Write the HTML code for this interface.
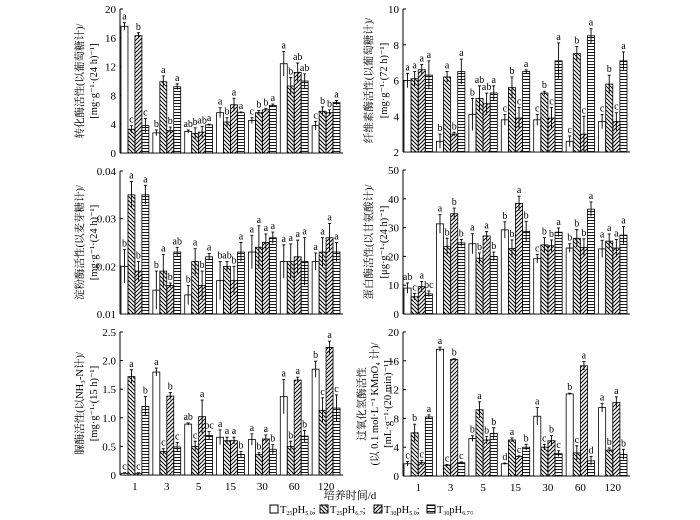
<!DOCTYPE html>
<html><head><meta charset="utf-8"><style>
html,body{margin:0;padding:0;background:#fff;}
svg{display:block;font-family:"Liberation Serif","Noto Serif CJK SC",serif;}
</style></head><body>
<svg id="chart" width="700" height="520" viewBox="0 0 700 520" xmlns="http://www.w3.org/2000/svg">
<defs>
<pattern id="pBack" patternUnits="userSpaceOnUse" width="4" height="4"><path d="M-1,-1 L5,5 M-1,3 L1,5 M3,-1 L5,1" stroke="#000" stroke-width="1"/></pattern>
<pattern id="pFwd" patternUnits="userSpaceOnUse" width="4" height="4"><path d="M-1,5 L5,-1 M-1,1 L1,-1 M3,5 L5,3" stroke="#000" stroke-width="1"/></pattern>
<pattern id="pHor" patternUnits="userSpaceOnUse" width="4" height="3"><path d="M0,1.5 L4,1.5" stroke="#000" stroke-width="0.9"/></pattern>
</defs>
<g id="panels"></g>
<text x="350" y="499" text-anchor="middle" font-size="11">培养时间/d</text>
<g font-size="10.5">
<rect x="270" y="505" width="8" height="8" fill="#fff" stroke="#000"/>
<text x="280" y="513">T<tspan font-size="6" dy="2">25</tspan><tspan dy="-2">pH</tspan><tspan font-size="6" dy="2">5.0</tspan><tspan dy="-2">;</tspan></text>
<rect x="320" y="505" width="8" height="8" fill="url(#pBack)" stroke="#000"/>
<text x="330" y="513">T<tspan font-size="6" dy="2">25</tspan><tspan dy="-2">pH</tspan><tspan font-size="6" dy="2">6.7</tspan><tspan dy="-2">;</tspan></text>
<rect x="374" y="505" width="8" height="8" fill="url(#pFwd)" stroke="#000"/>
<text x="384" y="513">T<tspan font-size="6" dy="2">30</tspan><tspan dy="-2">pH</tspan><tspan font-size="6" dy="2">5.0</tspan><tspan dy="-2">;</tspan></text>
<rect x="427" y="505" width="8" height="8" fill="url(#pHor)" stroke="#000"/>
<text x="437" y="513">T<tspan font-size="6" dy="2">30</tspan><tspan dy="-2">pH</tspan><tspan font-size="6" dy="2">6.7</tspan><tspan dy="-2">。</tspan></text>
</g>
</svg>
<script>
const categories = ["1","3","5","15","30","60","120"];
const seriesNames = ["T25pH5.0","T25pH6.7","T30pH5.0","T30pH6.7"];
const invertaseVals = [[17.6,3.3,16.3,3.8],[2.8,9.9,3.1,9.2],[3.0,2.7,2.9,3.9],[5.6,4.3,6.7,5.6],[4.5,5.6,6.0,6.6],[12.4,9.3,11.2,10.0],[3.8,5.8,5.6,7.0]];
const invertaseErr = [[0.5,0.5,0.4,1.0],[0.4,0.8,0.5,0.4],[0.2,0.8,0.8,0.1],[0.7,0.6,0.9,0.1],[0.4,0.3,0.2,0.2],[1.7,1.2,1.3,1.0],[0.6,0.6,0.4,0.3]];
const invertaseLetters = [["a","c","b","c"],["b","a","b","a"],["ab","b","ab","a"],["a","b","a","a"],["c","b","b","a"],["a","b","ab","ab"],["c","b","b","a"]];
const invertaseTicks = [0,4,8,12,16,20];
const cellulaseVals = [[6.0,6.1,6.6,6.3],[2.6,6.2,3.0,6.5],[4.1,5.0,4.7,5.3],[3.8,5.6,3.9,6.5],[3.8,5.3,3.9,7.1],[2.6,7.5,3.0,8.5],[3.7,5.8,3.7,7.1]];
const cellulaseErr = [[0.4,0.4,0.3,0.8],[0.4,0.3,0.1,0.7],[0.9,0.7,0.6,0.4],[0.3,0.6,0.6,0.1],[0.3,0.1,0.6,1.0],[0.3,0.4,1.0,0.4],[0.4,0.5,0.5,0.5]];
const cellulaseLetters = [["a","a","a","a"],["b","a","b","a"],["b","ab","ab","a"],["c","b","c","a"],["c","b","c","a"],["c","b","c","a"],["c","b","c","a"]];
const cellulaseTicks = [2,4,6,8,10];
const amylaseVals = [[0.020,0.035,0.019,0.035],[0.015,0.019,0.016,0.023],[0.014,0.021,0.016,0.022],[0.017,0.020,0.017,0.023],[0.023,0.024,0.025,0.026],[0.021,0.021,0.022,0.021],[0.021,0.023,0.026,0.023]];
const amylaseErr = [[0.0035,0.0028,0.002,0.002],[0.004,0.0035,0.0005,0.001],[0.002,0.0027,0.003,0.0007],[0.004,0.001,0.003,0.002],[0.0035,0.0045,0.0018,0.0012],[0.0035,0.0037,0.0035,0.005],[0.0018,0.003,0.003,0.002]];
const amylaseLetters = [["b","a","b","a"],["b","a","b","ab"],["b","a","b","a"],["b","ab","b","a"],["a","a","a","a"],["a","a","a","a"],["a","a","a","a"]];
const amylaseTicks = [0.01,0.02,0.03,0.04];
const proteaseVals = [[9,6,9.5,7],[31.3,23.5,34.8,24.7],[24.4,19.4,27.1,20],[29.2,22.7,38.4,28.7],[19.2,24,23.7,28.4],[22.9,26.3,23.1,36.4],[22.6,25.3,22.9,27.4]];
const proteaseErr = [[1.8,1.2,1.8,1],[3.2,2.8,2,1.2],[3.5,1.8,1.5,1.5],[2.8,3,2.5,3.5],[1.5,2.5,2,1.5],[1.5,3,3,2.5],[3,2.5,3,3]];
const proteaseLetters = [["ab","c","a","bc"],["a","b","b","b"],["a","b","a","b"],["b","b","a","b"],["c","b","b","a"],["b","b","b","a"],["a","a","a","a"]];
const proteaseTicks = [0,10,20,30,40,50];
const ureaseVals = [[0.03,1.72,0.03,1.20],[1.80,0.41,1.38,0.49],[0.89,0.50,1.02,0.69],[0.66,0.60,0.60,0.36],[0.62,0.36,0.63,0.45],[1.37,0.50,1.66,0.68],[1.85,1.13,2.23,1.17]];
const ureaseErr = [[0.01,0.12,0.01,0.17],[0.07,0.05,0.06,0.08],[0.02,0.09,0.29,0.07],[0.13,0.06,0.06,0.05],[0.1,0.03,0.07,0.08],[0.3,0.09,0.05,0.1],[0.14,0.22,0.11,0.23]];
const ureaseLetters = [["c","a","c","b"],["a","c","b","c"],["ab","c","a","bc"],["a","a","a","b"],["a","b","a","b"],["a","b","a","b"],["b","c","a","c"]];
const ureaseTicks = [0,0.5,1.0,1.5,2.0,2.5];
const catalaseVals = [[1.7,6.0,1.85,8.2],[17.6,1.5,16.2,1.85],[5.2,9.2,5.0,5.9],[1.7,5.0,2.7,4.0],[8.3,4.0,4.9,3.1],[11.4,3.2,15.3,2.1],[9.5,3.6,10.2,3.0]];
const catalaseErr = [[0.3,1.2,0.3,0.3],[0.3,0.1,0.1,0.1],[0.4,1.1,0.5,0.8],[0.1,0.3,0.1,0.4],[1.2,0.4,0.7,0.4],[0.1,1.0,0.6,0.6],[0.6,0.3,0.8,0.7]];
const catalaseLetters = [["c","b","c","a"],["a","c","b","c"],["b","a","b","b"],["d","a","c","b"],["a","c","b","c"],["b","c","a","d"],["a","b","a","b"]];
const catalaseTicks = [0,4,8,12,16,20];

const panels = [
 {name:"invertase",vals:invertaseVals,err:invertaseErr,let:invertaseLetters,ticks:invertaseTicks,x0:120,x1:343,yTop:9,yBot:153,fmt:v=>String(v),titles:[[83,"转化酶活性(以葡萄糖计)/"],[97,"[mg·g⁻¹·(24 h)⁻¹]"]],xlab:false},
 {name:"cellulase",vals:cellulaseVals,err:cellulaseErr,let:cellulaseLetters,ticks:cellulaseTicks,x0:403,x1:630,yTop:9,yBot:152,fmt:v=>String(v),titles:[[372,"纤维素酶活性(以葡萄糖计)/"],[387,"[mg·g⁻¹·(72 h)⁻¹]"]],xlab:false},
 {name:"amylase",vals:amylaseVals,err:amylaseErr,let:amylaseLetters,ticks:amylaseTicks,x0:120,x1:343,yTop:171,yBot:314,fmt:v=>v.toFixed(2),titles:[[83,"淀粉酶活性(以麦芽糖计)/"],[97,"[mg·g⁻¹·(24 h)⁻¹]"]],xlab:false},
 {name:"protease",vals:proteaseVals,err:proteaseErr,let:proteaseLetters,ticks:proteaseTicks,x0:403,x1:630,yTop:170,yBot:314,fmt:v=>String(v),titles:[[372,"蛋白酶活性(以甘氨酸计)/"],[387,"[μg·g⁻¹·(24 h)⁻¹]"]],xlab:false},
 {name:"urease",vals:ureaseVals,err:ureaseErr,let:ureaseLetters,ticks:ureaseTicks,x0:120,x1:343,yTop:332,yBot:475,fmt:v=>(v===0?"0":v.toFixed(1)),titles:[[83,"脲酶活性(以NH₃-N计)/"],[97,"[mg·g⁻¹·(15 h)⁻¹]"]],xlab:true},
 {name:"catalase",vals:catalaseVals,err:catalaseErr,let:catalaseLetters,ticks:catalaseTicks,x0:403,x1:630,yTop:332,yBot:476,fmt:v=>String(v),titles:[[365,"过氧化氢酶活性"],[378,"(以 0.1 mol·L⁻¹ KMnO₄ 计)/"],[391,"[mL·g⁻¹·(20 min)⁻¹]"]],xlab:true}
];
const fills = ["#fff","url(#pBack)","url(#pFwd)","url(#pHor)"];
const NS="http://www.w3.org/2000/svg";
const root=document.getElementById("panels");
function mk(tag,attrs,parent){const e=document.createElementNS(NS,tag);for(const k in attrs)e.setAttribute(k,attrs[k]);parent.appendChild(e);return e;}
panels.forEach(p=>{
  const g=mk("g",{},root);
  
  
  const tMin=p.ticks[0],tMax=p.ticks[p.ticks.length-1];
  const yS=v=>p.yBot-(v-tMin)/(tMax-tMin)*(p.yBot-p.yTop);
  const pitch=(p.x1-p.x0)/categories.length;
  const bw=(pitch-4)/4;
  const xS=(gi,si)=>p.x0+1+gi*pitch+si*bw;
  const ya=mk("line",{x1:p.x0,x2:p.x0,y1:p.yTop,y2:p.yBot,stroke:"#000","stroke-width":1},g);
  
  
  const xa=mk("line",{x1:p.x0,x2:p.x1,y1:p.yBot,y2:p.yBot,stroke:"#000","stroke-width":1},g);
  
  
  p.ticks.forEach(t=>{
    const y=yS(t);
    mk("line",{x1:p.x0,x2:p.x0+3,y1:y,y2:y,stroke:"#000"},g);
    const tx=mk("text",{x:p.x0-4,y:y+4,"text-anchor":"end","font-size":11},g);
    tx.textContent=p.fmt(t);
    
    
  });
  p.titles.forEach(([x,s])=>{
    const cy=(p.yTop+p.yBot)/2;
    const tt=mk("text",{x:x,y:cy,"text-anchor":"middle","font-size":10.5,transform:`rotate(-90 ${x} ${cy})`},g);
    tt.textContent=s;
    
    
  });
  categories.forEach((c,gi)=>{
    if(p.xlab){
      const xl=mk("text",{x:p.x0+1+gi*pitch+(pitch-4)/2,y:p.yBot+15,"text-anchor":"middle","font-size":11},g);
      xl.textContent=c;
      
      
    }
    seriesNames.forEach((s,si)=>{
      const v=p.vals[gi][si],e=p.err[gi][si];
      const x=xS(gi,si),y=yS(v);
      const r=mk("rect",{x:x,y:y,width:bw,height:Math.max(0,p.yBot-y),fill:fills[si],stroke:"#000","stroke-width":0.8},g);
      
      
      const cx=x+bw/2,yt=yS(v+e),yb=yS(Math.max(tMin,v-e));
      const eb=mk("path",{d:`M${cx},${yb}L${cx},${yt}M${cx-1.5},${yt}L${cx+1.5},${yt}`,stroke:"#000","stroke-width":0.9,fill:"none"},g);
      
      
      const lt=mk("text",{x:cx,y:yt-3,"text-anchor":"middle","font-size":10},g);
      lt.textContent=p.let[gi][si];
      
      
    });
  });
});
</script>
</body></html>
